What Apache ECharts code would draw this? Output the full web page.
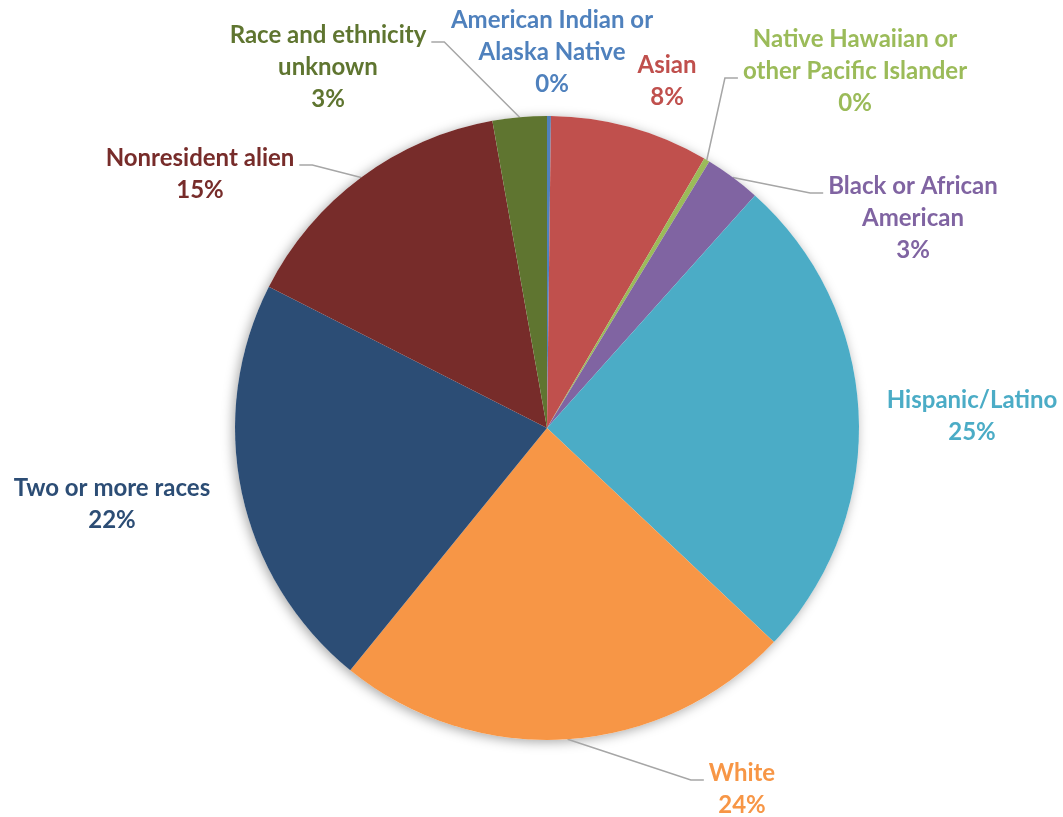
<!DOCTYPE html>
<html>
<head>
<meta charset="utf-8">
<script src="https://cdn.jsdelivr.net/npm/echarts@6/dist/echarts.min.js"></script>
<style>html,body{margin:0;padding:0;background:#fff}#c{width:1063px;height:817px}</style>
</head>
<body>
<div id="c"></div>
<script>
// ---- data ----
const categories = ["American Indian or Alaska Native", "Asian", "Native Hawaiian or other Pacific Islander",
  "Black or African American", "Hispanic/Latino", "White", "Two or more races", "Nonresident alien",
  "Race and ethnicity unknown"];
const labelNames = ["American Indian or\nAlaska Native", "Asian", "Native Hawaiian or\nother Pacific Islander",
  "Black or African\nAmerican", "Hispanic/Latino", "White", "Two or more races", "Nonresident alien",
  "Race and ethnicity\nunknown"];
const values = [0.2, 8.2, 0.3, 2.9, 25.4, 23.8, 21.6, 14.7, 2.8];

// ---- styling / layout (not data) ----
const colors = ["#4F81BD", "#C0504D", "#9BBB59", "#8064A2", "#4BACC6", "#F79646", "#2C4D75", "#772C2A", "#5F7530"];
const labelPos = [[552, 52], [667, 81], [855, 71], [913, 218], [972, 416], [742, 789], [112, 504], [200, 174], [328, 67]];
// leader line: null = none; [side, lineIndex]
const leaders = [null, null, ["left", 1], ["left", 0], null, ["left", 0], null, ["right", 0], ["right", 0]];
const LH = 32;

const chart = echarts.init(document.getElementById('c'));
const data = categories.map((n, i) => ({
  name: n, value: values[i],
  itemStyle: { color: colors[i] },
  label: { color: colors[i] },
  labelLine: { show: !!leaders[i] }
}));

chart.setOption({
  animation: false,
  series: [
    {
      type: 'pie', silent: true, z: 1,
      center: [547, 428], radius: 312,
      label: { show: false }, labelLine: { show: false },
      itemStyle: { color: '#fff', shadowBlur: 12, shadowColor: 'rgba(0,0,0,0.35)', shadowOffsetX: -2, shadowOffsetY: 2 },
      data: [{ value: 1, name: 'bg' }]
    },
    {
      type: 'pie', z: 2,
      center: [547, 428], radius: 312,
      startAngle: 90, clockwise: true,
      itemStyle: { borderWidth: 0 },
      label: {
        show: true, position: 'outside', overflow: 'none',
        fontFamily: 'Lato', fontWeight: 'bold', fontSize: 24, lineHeight: LH,
        align: 'center',
        formatter: p => labelNames[p.dataIndex] + '\n' + Math.round(p.percent) + '%'
      },
      labelLine: { lineStyle: { color: '#A6A6A6', width: 1.5 }, length: 10, length2: 10 },
      labelLayout: function (params) {
        const i = params.dataIndex;
        const lp = labelPos[i];
        const w = params.labelRect.width, h = params.labelRect.height;
        const res = { x: lp[0], y: lp[1], align: 'center', verticalAlign: 'middle', hideOverlap: false, moveOverlap: false };
        const ld = leaders[i];
        if (ld && params.labelLinePoints) {
          const A = params.labelLinePoints[0];
          const top = lp[1] - h / 2;
          const ay = top + ld[1] * LH + 23;
          let end, elbow;
          if (ld[0] === 'left') {
            const left = lp[0] - w / 2;
            end = [left - 5, ay]; elbow = [left - 18, ay];
          } else {
            const right = lp[0] + w / 2;
            end = [right + 5, ay]; elbow = [right + 18, ay];
          }
          res.labelLinePoints = [A, elbow, end];
        }
        return res;
      },
      data: data
    }
  ]
});
</script>
</body>
</html>
